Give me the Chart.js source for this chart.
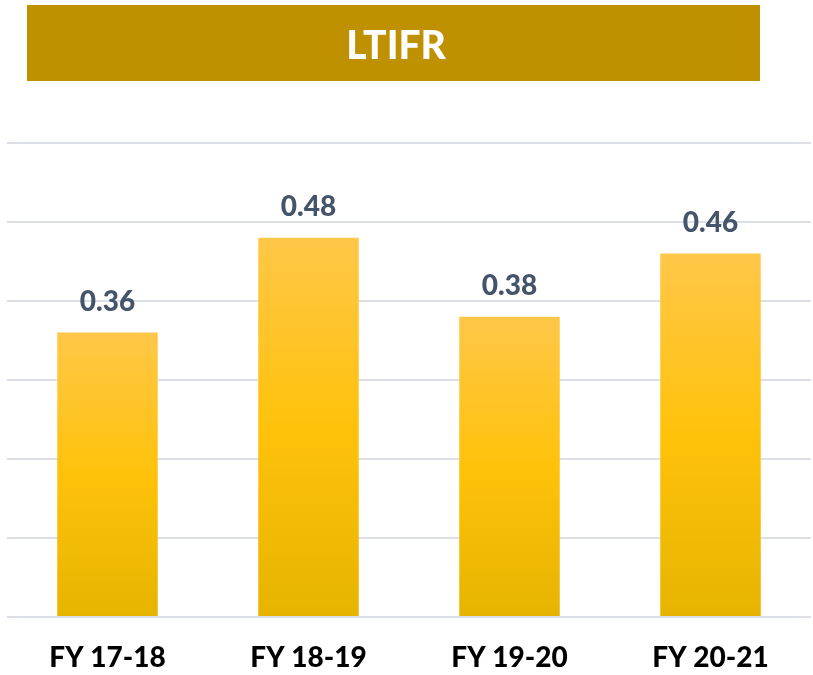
<!DOCTYPE html>
<html>
<head>
<meta charset="utf-8">
<script src="https://cdn.jsdelivr.net/npm/chart.js@4"></script>
<style>
html,body{margin:0;padding:0;background:#fff;}
#wrap{position:relative;width:813px;height:675px;}
</style>
</head>
<body>
<div id="wrap"><canvas id="c" width="813" height="675"></canvas></div>
<script>
const categories = ['FY 17-18', 'FY 18-19', 'FY 19-20', 'FY 20-21'];
const ltifrValues = [0.36, 0.48, 0.38, 0.46];
const titleText = 'LTIFR';

const bannerPlugin = {
  id: 'banner',
  beforeDraw(chart) {
    const ctx = chart.ctx;
    ctx.save();
    ctx.fillStyle = '#BF9000';
    ctx.fillRect(27, 5, 733, 76);
    ctx.font = '900 39px Lato';
    ctx.fillStyle = '#FFFFFF';
    ctx.textAlign = 'center';
    ctx.textBaseline = 'middle';
    ctx.fillText(titleText, 396, 46);
    ctx.restore();
  }
};

const labelPlugin = {
  id: 'valueLabels',
  afterDatasetsDraw(chart) {
    const ctx = chart.ctx;
    const meta = chart.getDatasetMeta(0);
    ctx.save();
    ctx.font = '900 28px Lato';
    ctx.fillStyle = '#44546A';
    ctx.textAlign = 'center';
    ctx.textBaseline = 'middle';
    meta.data.forEach((bar, i) => {
      ctx.fillText(chart.data.datasets[0].data[i].toFixed(2), bar.x, bar.y - 31);
    });
    ctx.restore();
  }
};

function barGradient(context) {
  const chart = context.chart;
  const y = chart.scales.y;
  if (!y || context.dataIndex === undefined) return '#FFC000';
  const top = y.getPixelForValue(context.raw);
  const bottom = y.getPixelForValue(0);
  if (!isFinite(top) || !isFinite(bottom) || top === bottom) return '#FFC000';
  const g = chart.ctx.createLinearGradient(0, top, 0, bottom);
  g.addColorStop(0, '#FFC748');
  g.addColorStop(0.5, '#FFC20A');
  g.addColorStop(1, '#E6B400');
  return g;
}

new Chart(document.getElementById('c'), {
  type: 'bar',
  data: {
    labels: categories,
    datasets: [{
      data: ltifrValues,
      backgroundColor: barGradient,
      borderWidth: 0,
      categoryPercentage: 1,
      barPercentage: 0.5
    }]
  },
  options: {
    responsive: false,
    animation: false,
    layout: { padding: { left: 7, right: 2, top: 143, bottom: 0 } },
    plugins: {
      legend: { display: false },
      tooltip: { enabled: false },
      title: { display: false }
    },
    scales: {
      x: {
        grid: { display: false, drawTicks: false },
        border: { display: false },
        afterFit: (scale) => { scale.height = 58; },
        ticks: {
          color: '#000000',
          font: { family: 'Lato', size: 28, weight: '900' },
          padding: 24
        }
      },
      y: {
        min: 0,
        max: 0.6,
        grid: { color: '#DCE0E6', lineWidth: 2, drawTicks: false },
        border: { display: false },
        ticks: { display: false, stepSize: 0.1 }
      }
    }
  },
  plugins: [bannerPlugin, labelPlugin]
});
</script>
</body>
</html>
